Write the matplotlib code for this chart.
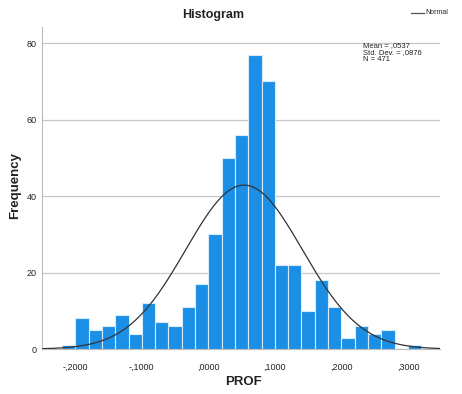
import numpy as np
import matplotlib
matplotlib.use("Agg")
import matplotlib.pyplot as plt

plt.rcParams['font.family'] = ['Liberation Sans', 'DejaVu Sans']

# bin left edges (width 0.02) and frequencies
bin_left = [-0.22, -0.20, -0.18, -0.16, -0.14, -0.12, -0.10, -0.08, -0.06,
            -0.04, -0.02, 0.00, 0.02, 0.04, 0.06, 0.08, 0.10, 0.12, 0.14,
            0.16, 0.18, 0.20, 0.22, 0.24, 0.26, 0.28, 0.30]
counts = [1, 8, 5, 6, 9, 4, 12, 7, 6, 11, 17, 30, 50, 56, 77, 70, 22, 22,
          10, 18, 11, 3, 6, 4, 5, 0, 1]
bin_width = 0.02

mean = 0.0537
std = 0.0876
n = 471

xtick_vals = [-0.2, -0.1, 0.0, 0.1, 0.2, 0.3]
xtick_labels = ['-,2000', '-,1000', ',0000', ',1000', ',2000', ',3000']
ytick_vals = [0, 20, 40, 60, 80]

fig = plt.figure(figsize=(4.62, 3.94), dpi=100)
ax = fig.add_axes([0.091, 0.114, 0.861, 0.817])

ax.bar(bin_left, counts, width=bin_width, align='edge',
       color='#1b8fe6', edgecolor='#d6ebfb', linewidth=0.8, zorder=3)

# normal curve scaled to the histogram
xs = np.linspace(-0.25, 0.348, 300)
ys = n * bin_width * np.exp(-0.5 * ((xs - mean) / std) ** 2) / (std * np.sqrt(2 * np.pi))
ax.plot(xs, ys, color='#333333', linewidth=0.9, zorder=4)

ax.set_xlim(-0.25, 0.348)
ax.set_ylim(0, 84.2)
ax.set_xticks(xtick_vals)
ax.set_xticklabels(xtick_labels)
ax.set_yticks(ytick_vals)
ax.tick_params(axis='both', length=0, labelsize=6.5, colors='#222222')
ax.tick_params(axis='x', pad=10)
ax.tick_params(axis='y', pad=4)

ax.grid(axis='y', color='#c8c8c8', linewidth=0.9, zorder=0)
for s in ['top', 'right']:
    ax.spines[s].set_visible(False)
ax.spines['left'].set_color('#bbbbbb')
ax.spines['bottom'].set_color('#bbbbbb')

# axis titles placed directly so they stay inside the small figure
fig.text(0.526, 0.030, 'PROF', fontsize=9.5, fontweight='bold',
         ha='center', va='center', color='#222222')
fig.text(0.032, 0.530, 'Frequency', fontsize=9.5, fontweight='bold',
         ha='center', va='center', rotation=90, color='#222222')
fig.text(0.461, 0.962, 'Histogram', fontsize=9, fontweight='bold',
         ha='center', va='center', color='#222222')

# legend
fig.lines.append(plt.Line2D([0.889, 0.918], [0.968, 0.968], transform=fig.transFigure,
                            color='#555555', linewidth=0.9))
fig.text(0.920, 0.968, 'Normal', fontsize=5, ha='left', va='center', color='#222222')

fig.text(0.786, 0.893, 'Mean = ,0537\nStd. Dev. = ,0876\nN = 471',
         fontsize=5.5, ha='left', va='top', linespacing=0.95, color='#222222')

fig.savefig('out.png', dpi=100)
